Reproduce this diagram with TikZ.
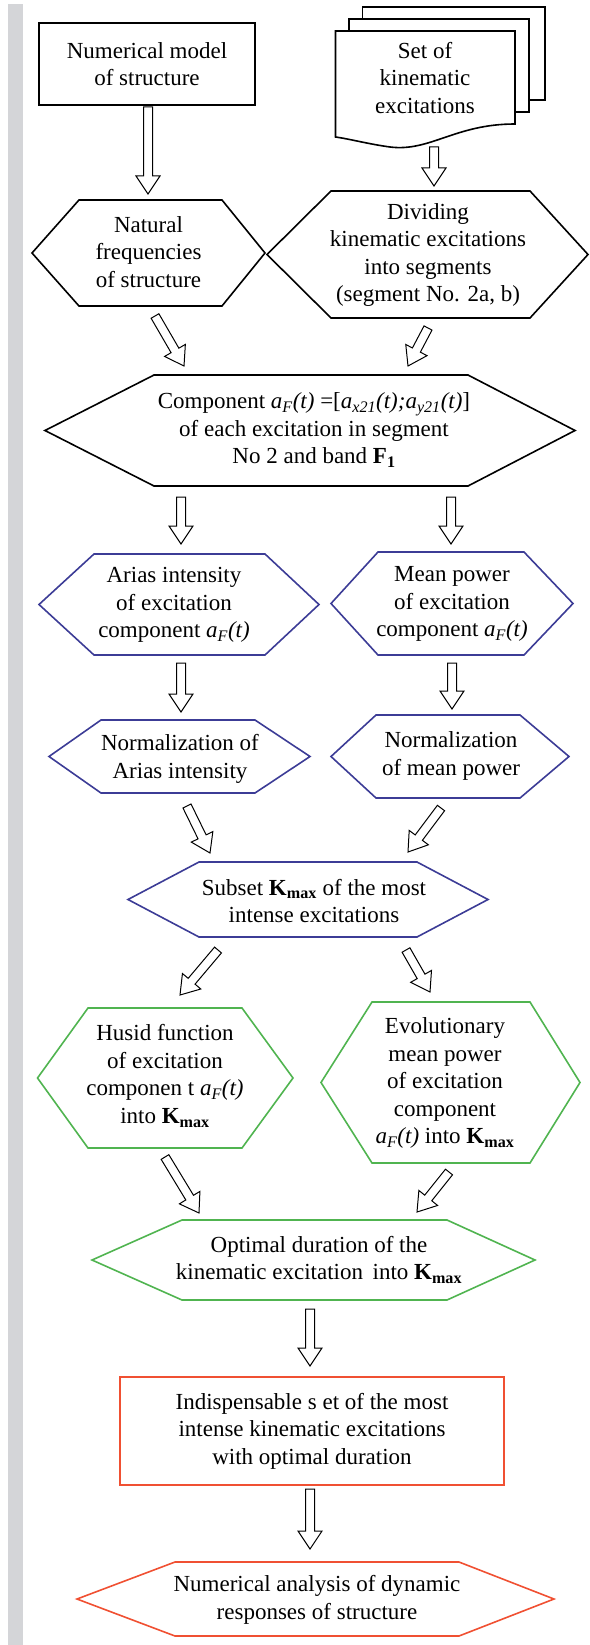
\documentclass[tikz,border=0pt]{standalone}
\usepackage{fontspec}
\setmainfont{Liberation Serif}
\usetikzlibrary{calc}
\definecolor{hexblue}{RGB}{60,60,150}
\definecolor{hexgreen}{RGB}{80,180,80}
\definecolor{hexred}{RGB}{240,80,50}
\definecolor{barg}{RGB}{212,213,216}
\newcommand\aF{\textit{a\textsubscript{F}(t)}}
\newcommand\Kmax{\textbf{K\textsubscript{max}}}
\tikzset{
  txt/.style={align=center, font=\fontsize{23}{27.5}\selectfont, inner sep=0pt},
  shapeline/.style={line width=1.6pt, line join=miter},
  boxnode/.style={txt, draw, shapeline},
  harrow/.style={draw=black, line width=1pt, fill=white, line join=miter},
}
% #1 colour, #2 left point, #3 top-left x, #4 top-right x, #5 right point, #6 top y, #7 bottom y
\newcommand\hexa[7]{%
  \draw[shapeline, #1] (#2,{(#6+#7)/2}) -- (#3,#6) -- (#4,#6) -- (#5,{(#6+#7)/2}) -- (#4,#7) -- (#3,#7) -- cycle;}
% hollow arrow from coordinate #1 to coordinate #2
\newcommand\harr[2]{%
  \coordinate (hb) at ($(#2)!18pt!(#1)$);
  \draw[harrow] ($(#1)!4.5pt!90:(#2)$) -- ($(hb)!4.5pt!90:(#2)$) -- ($(hb)!12pt!90:(#2)$) -- (#2)
     -- ($(hb)!12pt!-90:(#2)$) -- ($(hb)!4.5pt!-90:(#2)$) -- ($(#1)!4.5pt!-90:(#2)$) -- cycle;}
\begin{document}
\begin{tikzpicture}[x=1pt, y=-1pt]
\useasboundingbox (0,0) rectangle (589,1645);
\fill[barg] (7.5,4) rectangle (22.5,1645);

% top rectangle
\node[boxnode, minimum width=216pt, minimum height=82pt] (model) at (147,64) {Numerical model\\of structure};

% document stack
\draw[shapeline, fill=white] (362.5,7) rectangle (545,100);
\draw[shapeline, fill=white] (349,19) rectangle (529,112);
\draw[shapeline, fill=white] (335.5,31) -- (515,31) -- (515,124)
   .. controls (455,124) and (430,152) .. (390,147)
   .. controls (368,144) and (350,139) .. (335.5,137) -- cycle;
\node[txt] (excit) at (425,78) {Set of\\kinematic\\excitations};

% row 2
\hexa{black}{32}{79}{222}{265}{200}{306}
\node[txt] (natural) at (148.5,252) {Natural\\frequencies\\of structure};
\hexa{black}{267}{331}{530}{588}{191}{318}
\node[txt] (dividing) at (428,255) {Dividing\\kinematic excitations\\into segments\\(segment No. 2a, b)};

% component
\hexa{black}{45}{154}{468}{575}{375}{486}
\node[txt] (component) at (314,430) {Component \aF{} =[\textit{a\textsubscript{x21}(t);a\textsubscript{y21}(t)}]\\of each excitation in segment\\No 2 and band \textbf{F\textsubscript{1}}};

% blue row 1
\hexa{hexblue}{39}{94}{265}{319}{554}{655}
\node[txt] (arias) at (174,605) {Arias intensity\\of excitation\\component \aF};
\hexa{hexblue}{331}{378}{524}{573}{552}{655}
\node[txt] (meanpow) at (452,604) {Mean power\\of excitation\\component \aF};

% blue row 2
\hexa{hexblue}{49}{101}{255}{310}{720}{793}
\node[txt] (normarias) at (180,759) {Normalization of\\Arias intensity};
\hexa{hexblue}{331}{376}{520}{569}{715}{798}
\node[txt] (normmean) at (451,756) {Normalization\\of mean power};

% subset
\hexa{hexblue}{128}{199}{417}{488}{862}{937}
\node[txt] (subset) at (314,901) {Subset \Kmax{} of the most\\intense excitations};

% green row
\hexa{hexgreen}{37.5}{88}{242}{293}{1008}{1148}
\node[txt] (husid) at (165,1076) {Husid function\\of excitation\\componen t \aF\\into \Kmax};
\hexa{hexgreen}{321}{372}{530}{580}{1002}{1163}
\node[txt] (evol) at (445,1083) {Evolutionary\\mean power\\of excitation\\component\\\aF{} into \Kmax};

% optimal
\hexa{hexgreen}{92}{182}{447}{535}{1220}{1300}
\node[txt] (optimal) at (319,1260) {Optimal duration of the\\kinematic excitation\, into \Kmax};

% red rectangle
\node[boxnode, draw=hexred, minimum width=384pt, minimum height=108pt] (indisp) at (312,1431) {Indispensable s et of the most\\intense kinematic excitations\\with optimal duration};

% bottom hexagon
\hexa{hexred}{77}{175}{459}{554}{1562}{1636}
\node[txt] (analysis) at (317,1600) {Numerical analysis of dynamic\\responses of structure};

% arrow end points
\coordinate (a1s) at (148,107);  \coordinate (a1e) at (148,194);
\coordinate (a2s) at (434,147);  \coordinate (a2e) at (434,186);
\coordinate (a3s) at (155,316);  \coordinate (a3e) at (184,366);
\coordinate (a4s) at (428,328);  \coordinate (a4e) at (408,366);
\coordinate (a5s) at (181,497);  \coordinate (a5e) at (181,544);
\coordinate (a6s) at (451,497);  \coordinate (a6e) at (451,544);
\coordinate (a7s) at (181,663);  \coordinate (a7e) at (181,712);
\coordinate (a8s) at (452,663);  \coordinate (a8e) at (452,709);
\coordinate (a9s) at (187,806);  \coordinate (a9e) at (210,853);
\coordinate (a10s) at (441,808); \coordinate (a10e) at (408,852);
\coordinate (a11s) at (218,950); \coordinate (a11e) at (180,995);
\coordinate (a12s) at (406,950); \coordinate (a12e) at (430,992);
\coordinate (a13s) at (165,1157); \coordinate (a13e) at (199,1213);
\coordinate (a14s) at (449,1172); \coordinate (a14e) at (417,1212);
\coordinate (a15s) at (310,1309); \coordinate (a15e) at (310,1366);
\coordinate (a16s) at (310,1489); \coordinate (a16e) at (310,1549);

\harr{a1s}{a1e}
\harr{a2s}{a2e}
\harr{a3s}{a3e}
\harr{a4s}{a4e}
\harr{a5s}{a5e}
\harr{a6s}{a6e}
\harr{a7s}{a7e}
\harr{a8s}{a8e}
\harr{a9s}{a9e}
\harr{a10s}{a10e}
\harr{a11s}{a11e}
\harr{a12s}{a12e}
\harr{a13s}{a13e}
\harr{a14s}{a14e}
\harr{a15s}{a15e}
\harr{a16s}{a16e}
\end{tikzpicture}
\end{document}
